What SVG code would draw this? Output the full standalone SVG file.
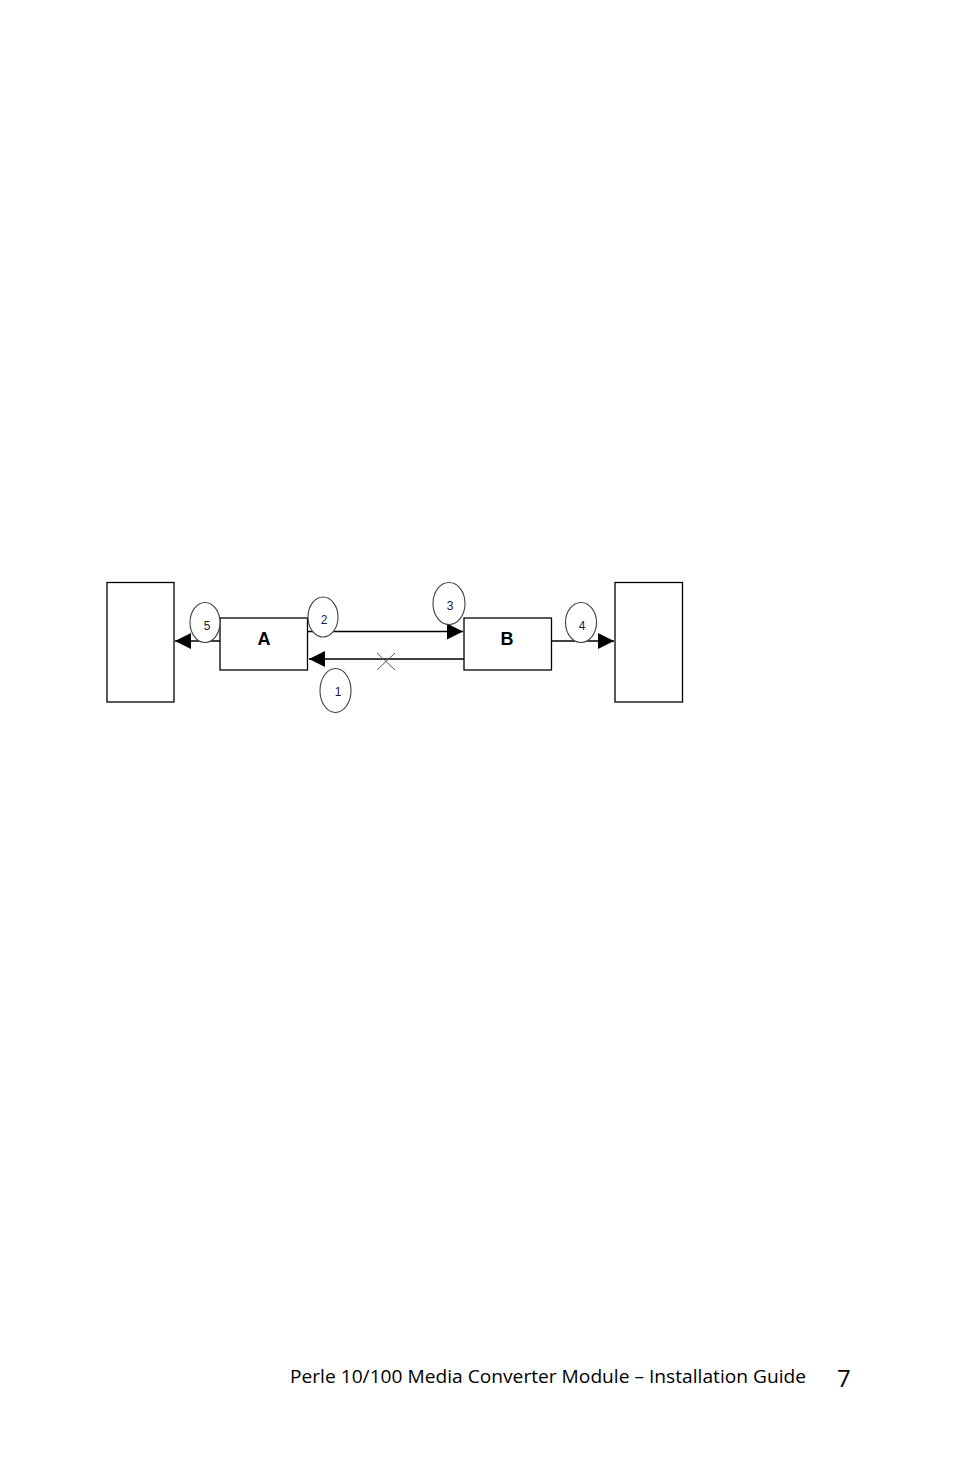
<svg xmlns="http://www.w3.org/2000/svg" width="954" height="1475" viewBox="0 0 954 1475">
<defs>
<style>
.box{fill:#fff;stroke:#000;stroke-width:1.3}
.ell{fill:#fff;stroke:#404040;stroke-width:1.1}
.ln{stroke:#000;stroke-width:1.3;fill:none}
.num{font-family:"Liberation Sans",Arial,sans-serif;font-size:12px;fill:#1a1a40;text-anchor:middle}
.lbl{font-family:"Liberation Sans",Arial,sans-serif;font-size:18px;font-weight:bold;fill:#000;text-anchor:middle}
.foot{font-family:"Open Sans","Liberation Sans",sans-serif;fill:#000}
</style>
<marker id="ah" viewBox="0 0 10 10" refX="10" refY="5" markerWidth="16" markerHeight="16" markerUnits="userSpaceOnUse" orient="auto">
<path d="M0,0 L10,5 L0,10 Z" fill="#000"/>
</marker>
</defs>
<rect width="954" height="1475" fill="#fff"/>
<g id="connectors">
<line class="ln" x1="220" y1="641" x2="175" y2="641" marker-end="url(#ah)"/>
<line class="ln" x1="308" y1="631.5" x2="463" y2="631.5" marker-end="url(#ah)"/>
<line class="ln" x1="464" y1="659" x2="309" y2="659" marker-end="url(#ah)"/>
<line class="ln" x1="552" y1="641" x2="614" y2="641" marker-end="url(#ah)"/>
<path d="M377,653 L395,670 M377,670 L395,653" stroke="#555" stroke-width="1" fill="none"/>
</g>
<g id="left-device"><rect class="box" x="107" y="582.5" width="67" height="119.5"/></g>
<g id="right-device"><rect class="box" x="615" y="582.5" width="67.5" height="119.5"/></g>
<g id="node-A"><rect class="box" x="220" y="618" width="87.5" height="52"/><text class="lbl" x="264" y="645">A</text></g>
<g id="node-B"><rect class="box" x="464" y="618" width="87.5" height="52"/><text class="lbl" x="507" y="645">B</text></g>
<g id="c5"><ellipse class="ell" cx="205" cy="622.5" rx="15" ry="20"/><text class="num" x="207" y="630">5</text></g>
<g id="c2"><ellipse class="ell" cx="323" cy="617" rx="15" ry="20"/><text class="num" x="324" y="624">2</text></g>
<g id="c1"><ellipse class="ell" cx="335.5" cy="690.5" rx="15.5" ry="22"/><text class="num" x="338" y="696">1</text></g>
<g id="c3"><ellipse class="ell" cx="449" cy="603.5" rx="16" ry="21"/><text class="num" x="450" y="610">3</text></g>
<g id="c4"><ellipse class="ell" cx="581" cy="622.5" rx="15.5" ry="20"/><text class="num" x="582" y="630">4</text></g>
<g id="footer">
<text class="foot" x="290" y="1383" font-size="19" textLength="516" lengthAdjust="spacingAndGlyphs">Perle 10/100 Media Converter Module – Installation Guide</text>
<text class="foot" x="837" y="1387" font-size="24">7</text>
</g>
</svg>
